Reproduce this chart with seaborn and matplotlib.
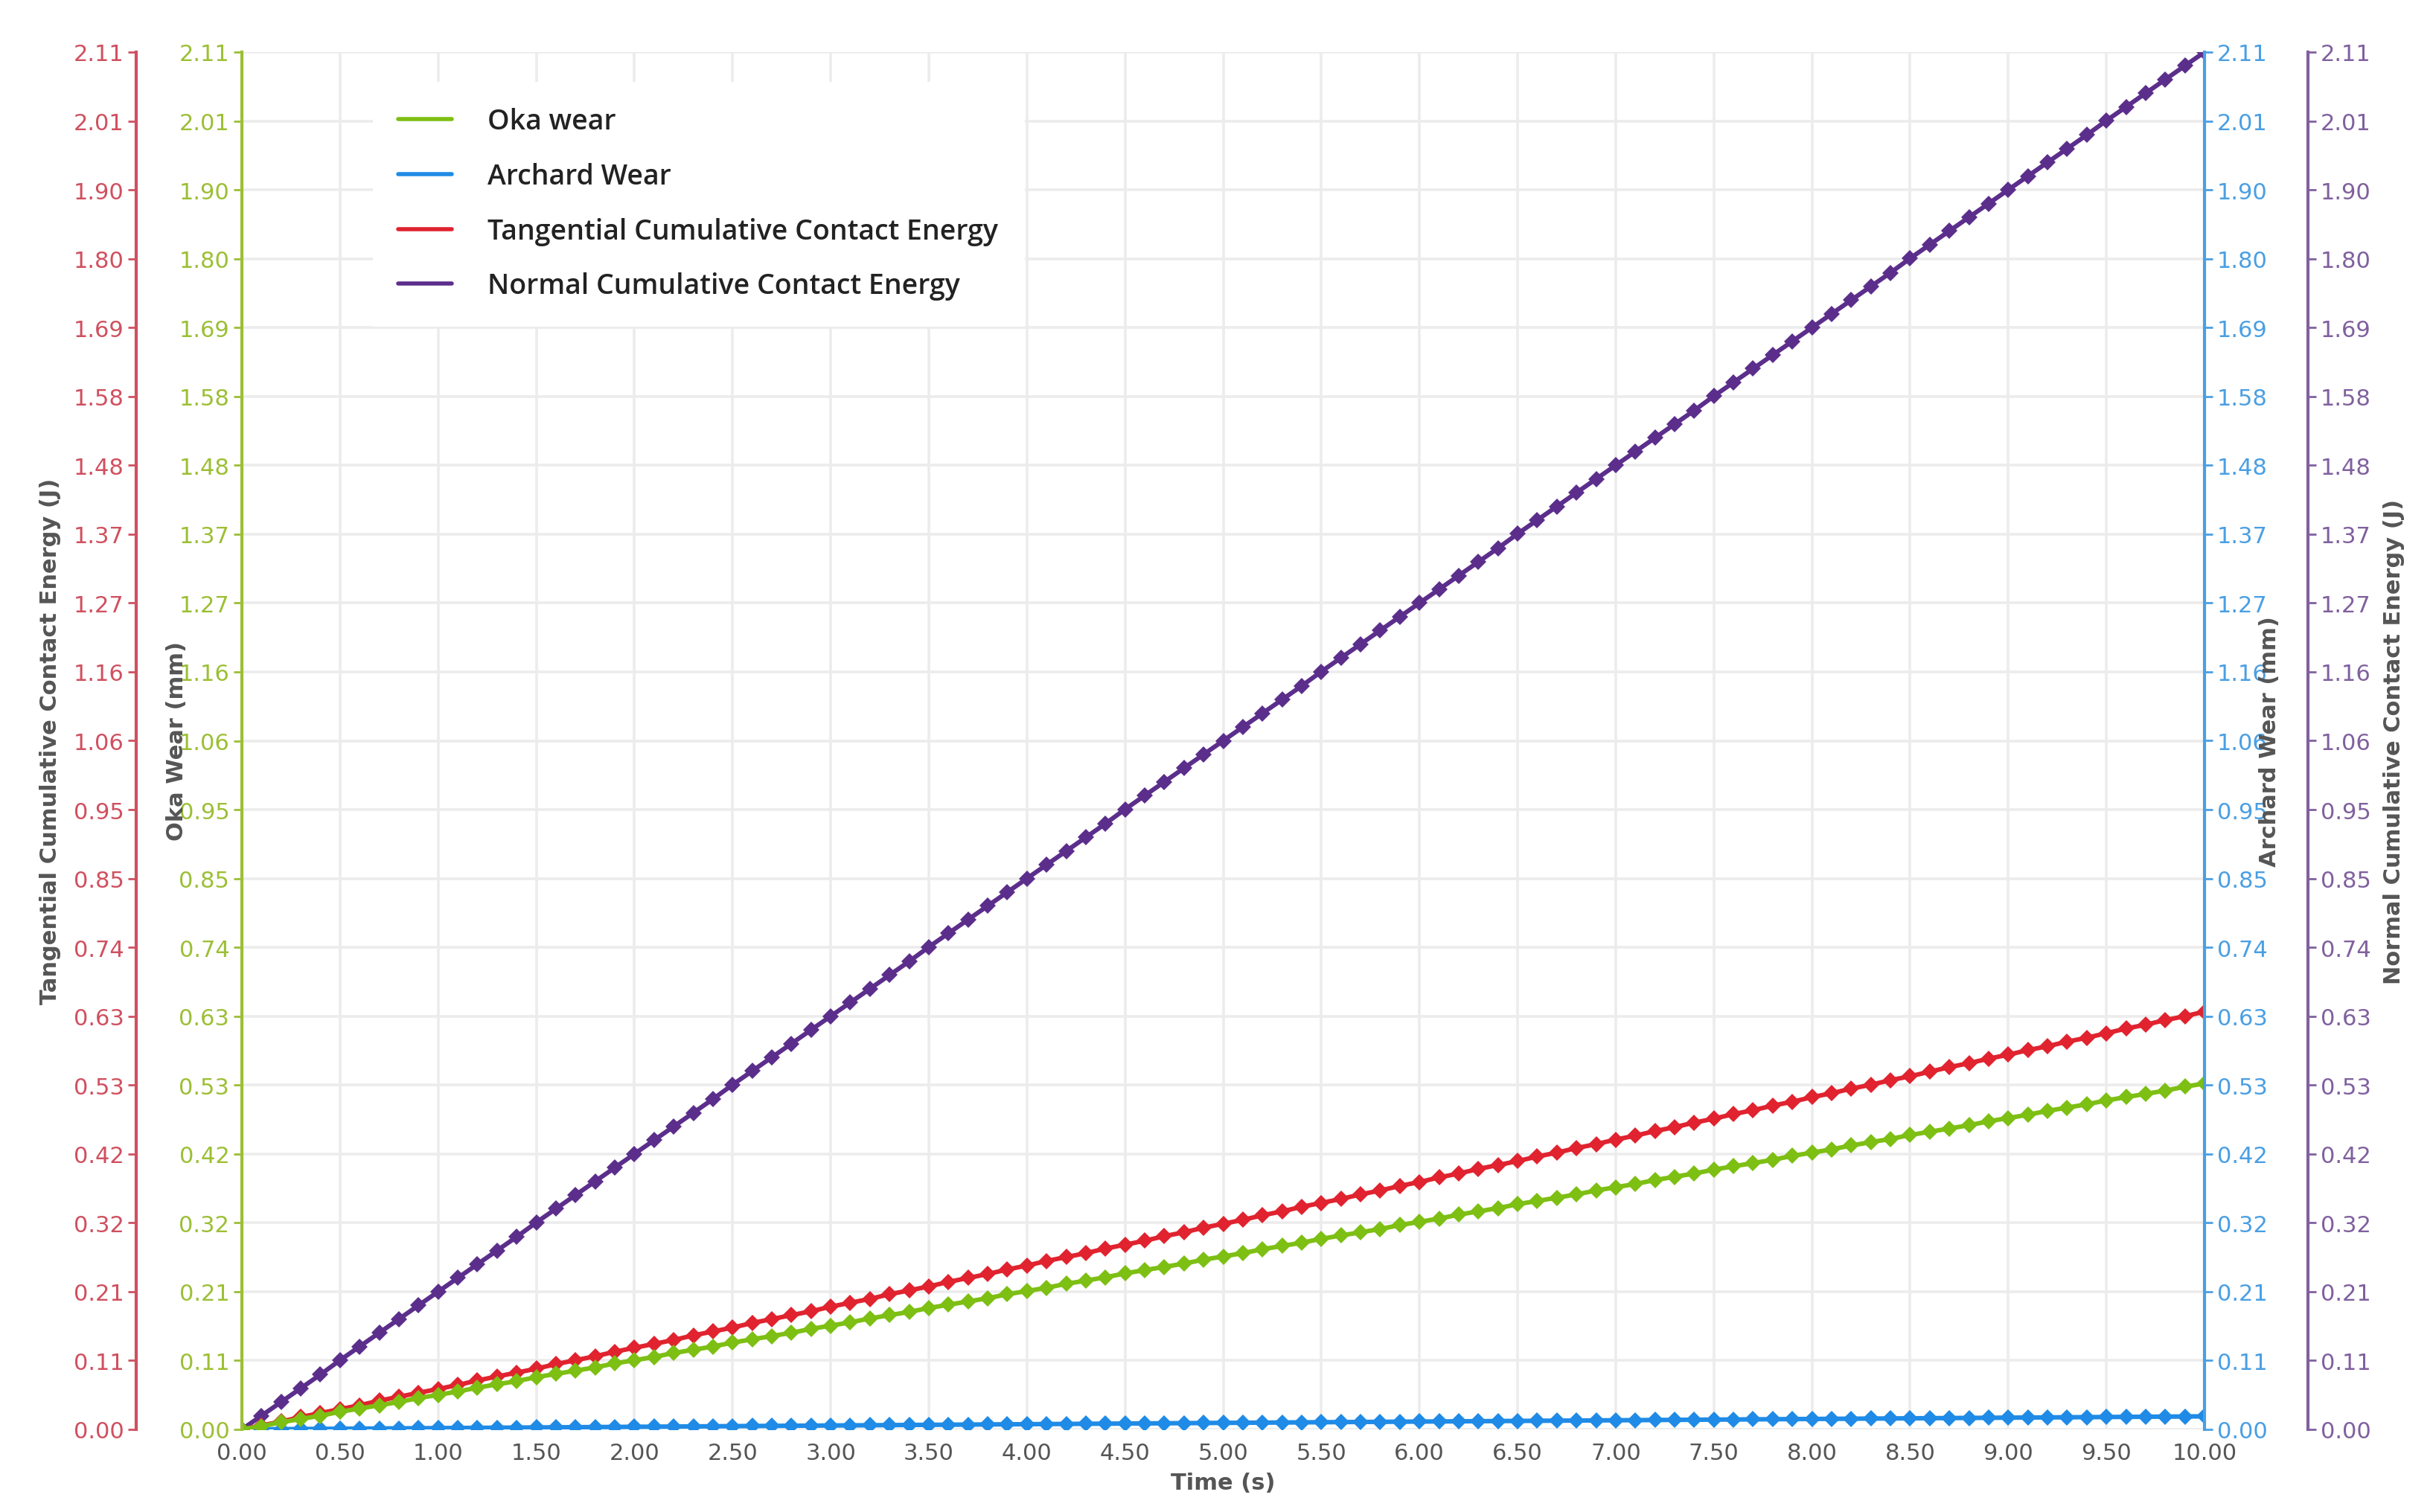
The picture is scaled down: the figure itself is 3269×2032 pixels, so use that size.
import numpy as np
import pandas as pd
import matplotlib
matplotlib.use("Agg")
import matplotlib.pyplot as plt
import seaborn as sns

# -- data
time_s = np.round(np.arange(0, 101) * 0.1, 1)

normal_energy = [
    0, .021, .042, .063, .084, .106, .127, .148, .169, .190, .211,
    .232, .253, .274, .295, .317, .338, .359, .380, .401, .422,
    .443, .464, .485, .506, .528, .549, .570, .591, .612, .633,
    .654, .675, .696, .717, .739, .760, .781, .802, .823, .844,
    .865, .886, .907, .928, .950, .971, .992, 1.013, 1.034, 1.055,
    1.076, 1.097, 1.118, 1.139, 1.161, 1.182, 1.203, 1.224, 1.245, 1.266,
    1.287, 1.308, 1.329, 1.350, 1.372, 1.393, 1.414, 1.435, 1.456, 1.477,
    1.498, 1.519, 1.540, 1.561, 1.583, 1.604, 1.625, 1.646, 1.667, 1.688,
    1.709, 1.730, 1.751, 1.772, 1.794, 1.815, 1.836, 1.857, 1.878, 1.899,
    1.920, 1.941, 1.962, 1.983, 2.005, 2.026, 2.047, 2.068, 2.089, 2.110,
]
tangential_energy = [
    0, .006, .012, .019, .025, .031, .037, .044, .050, .056, .062,
    .068, .075, .081, .087, .093, .100, .106, .112, .119, .125,
    .131, .137, .144, .150, .156, .163, .169, .175, .181, .188,
    .194, .200, .207, .213, .219, .226, .232, .238, .245, .251,
    .258, .264, .270, .277, .283, .289, .296, .302, .309, .315,
    .321, .328, .334, .341, .347, .353, .360, .366, .373, .379,
    .386, .392, .399, .405, .411, .418, .424, .431, .437, .444,
    .450, .457, .463, .470, .476, .483, .489, .496, .502, .509,
    .515, .522, .528, .535, .541, .548, .555, .561, .568, .574,
    .581, .587, .594, .600, .607, .614, .620, .627, .633, .640,
]
oka_wear = [
    0, .005, .011, .016, .021, .027, .032, .037, .042, .048, .053,
    .058, .064, .069, .074, .080, .085, .090, .095, .101, .106,
    .111, .117, .122, .127, .133, .138, .143, .148, .154, .159,
    .164, .170, .175, .180, .186, .191, .196, .201, .207, .212,
    .217, .223, .228, .233, .239, .244, .249, .254, .260, .265,
    .270, .276, .281, .286, .292, .297, .302, .307, .313, .318,
    .323, .329, .334, .339, .345, .350, .355, .360, .366, .371,
    .376, .382, .387, .392, .398, .403, .408, .413, .419, .424,
    .429, .435, .440, .445, .451, .456, .461, .466, .472, .477,
    .482, .488, .493, .498, .504, .509, .514, .519, .525, .530,
]
archard_wear = [
    0, .0002, .0004, .0006, .0008, .0010, .0012, .0014, .0016, .0018, .0020,
    .0022, .0024, .0026, .0028, .0030, .0032, .0034, .0036, .0038, .0040,
    .0042, .0044, .0046, .0048, .0050, .0052, .0054, .0056, .0058, .0060,
    .0062, .0064, .0066, .0068, .0070, .0072, .0074, .0076, .0078, .0080,
    .0082, .0084, .0086, .0088, .0090, .0092, .0094, .0096, .0098, .0100,
    .0102, .0104, .0106, .0108, .0110, .0112, .0114, .0116, .0118, .0120,
    .0122, .0124, .0126, .0128, .0130, .0132, .0134, .0136, .0138, .0140,
    .0142, .0144, .0146, .0148, .0150, .0152, .0154, .0156, .0158, .0160,
    .0162, .0164, .0166, .0168, .0170, .0172, .0174, .0176, .0178, .0180,
    .0182, .0184, .0186, .0188, .0190, .0192, .0194, .0196, .0198, .0200,
]

y_tick_labels = ["0.00", "0.11", "0.21", "0.32", "0.42", "0.53", "0.63", "0.74",
                 "0.85", "0.95", "1.06", "1.16", "1.27", "1.37", "1.48", "1.58",
                 "1.69", "1.80", "1.90", "2.01", "2.11"]
x_tick_labels = [f"{v:.2f}" for v in np.arange(0, 10.01, 0.5)]

series_names = ["Oka wear", "Archard Wear", "Tangential Cumulative Contact Energy",
                "Normal Cumulative Contact Energy"]

# -- styles
line_colors = {"Oka wear": "#7dbf13", "Archard Wear": "#1f8be6",
               "Tangential Cumulative Contact Energy": "#e0232f",
               "Normal Cumulative Contact Energy": "#5c2e8c"}
axis_colors = {"red": "#d0505f", "green": "#9cbf35", "blue": "#4a9fe3", "purple": "#80609e"}
label_color = "#555555"
tick_size = 11

df = pd.DataFrame({
    "time": np.tile(time_s, 4),
    "value": oka_wear + archard_wear + tangential_energy + normal_energy,
    "series": np.repeat(series_names, len(time_s)),
})

sns.set_theme(style="white")
plt.rcParams["font.family"] = ["DejaVu Sans"]

fig = plt.figure(figsize=(16.345, 10.165), dpi=200)
ax = fig.add_axes([325 / 3269, 1 - 1922 / 2033, (2962 - 325) / 3269, (1922 - 71) / 2033])

ymax = 2.11
yticks = np.linspace(0, ymax, 21)

sns.lineplot(data=df, x="time", y="value", hue="series", palette=line_colors,
             hue_order=series_names[::-1], marker="D", markersize=5.5,
             markeredgewidth=0, linewidth=2.2, ax=ax, legend=False)

ax.set_xlim(0, 10)
ax.set_ylim(0, ymax)
ax.set_xticks(np.arange(0, 10.01, 0.5), labels=x_tick_labels)
ax.set_yticks(yticks, labels=y_tick_labels)
ax.grid(True, color="#ececec", linewidth=1.3)
ax.set_axisbelow(True)
for s in ["top", "right", "bottom"]:
    ax.spines[s].set_visible(False)
ax.spines["left"].set_color(axis_colors["green"])
ax.spines["left"].set_linewidth(1.5)
ax.tick_params(axis="y", colors=axis_colors["green"], labelsize=tick_size, length=4, width=1, left=True, pad=2)
ax.tick_params(axis="x", colors="#555555", labelsize=tick_size, length=0, pad=6)
ax.set_xlabel("Time (s)", fontsize=11, fontweight="bold", color=label_color, labelpad=4)
ax.set_ylabel("Oka Wear (mm)", fontsize=11, fontweight="bold", color=label_color, labelpad=-4)


def extra_axis(side, offset_pt, color, label, labelpad):
    tw = ax.twinx()
    tw.set_ylim(0, ymax)
    tw.grid(False)
    for s in ["top", "bottom", "left", "right"]:
        tw.spines[s].set_visible(False)
    tw.spines[side].set_visible(True)
    tw.spines[side].set_position(("outward", offset_pt))
    tw.spines[side].set_color(color)
    tw.spines[side].set_linewidth(1.5)
    tw.yaxis.set_ticks_position(side)
    tw.yaxis.set_label_position(side)
    tw.set_yticks(yticks, labels=y_tick_labels)
    tw.tick_params(axis="y", colors=color, labelsize=tick_size, length=4, width=1, pad=2,
                   left=(side == "left"), right=(side == "right"))
    tw.set_ylabel(label, fontsize=11, fontweight="bold", color=label_color, labelpad=labelpad)
    return tw


extra_axis("left", 51, axis_colors["red"], "Tangential Cumulative Contact Energy (J)", 6)
extra_axis("right", 0, axis_colors["blue"], "Archard Wear (mm)", -4)
extra_axis("right", 50, axis_colors["purple"], "Normal Cumulative Contact Energy (J)", 6)

# legend box with white background
handles = [plt.Line2D([], [], color=line_colors[n], linewidth=2) for n in series_names]
leg = ax.legend(handles, series_names, loc="upper left", bbox_to_anchor=(0.067, 0.978),
                frameon=True, fontsize=13.5, handlelength=1.9, handletextpad=1.3,
                labelspacing=0.95, borderpad=0.9, borderaxespad=0)
leg.get_frame().set_facecolor("white")
leg.get_frame().set_edgecolor("white")
leg.get_frame().set_alpha(1)
leg.get_frame().set_boxstyle("square", pad=0)
for t in leg.get_texts():
    t.set_fontfamily(["Open Sans", "DejaVu Sans"])
    t.set_fontweight("semibold")
    t.set_color("#222222")
leg.set_zorder(10)

fig.savefig("out.png", dpi=200)
